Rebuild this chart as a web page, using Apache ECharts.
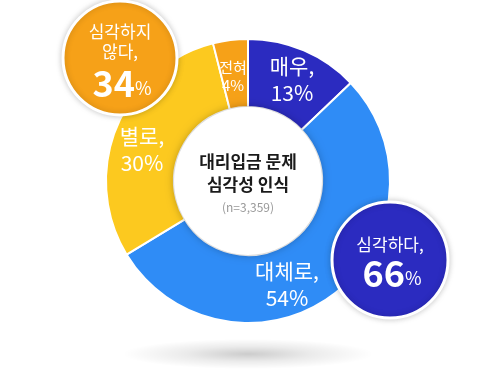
<!DOCTYPE html>
<html>
<head>
<meta charset="utf-8">
<script src="https://cdn.jsdelivr.net/npm/echarts@6/dist/echarts.min.js"></script>
<style>
  html, body { margin: 0; padding: 0; background: #fff; }
  #chart { width: 500px; height: 376px; }
</style>
</head>
<body>
<div id="chart"></div>
<script>
// 응답 분포
const categories = ['매우', '대체로', '별로', '전혀']
const values = [13, 54, 30, 4]
const colors = ['#2b2bc0', '#2f8cf6', '#fcc91f', '#f6a118']

// 묶음 요약
const groupNames = ['심각하다,', '심각하지\n않다,']
const groupValues = [66, 34]
const groupColors = ['#2b2bc0', '#f6a118']

const title = ['대리입금 문제', '심각성 인식']
const sampleText = '(n=3,359)'

const FONT = '"Noto Sans CJK KR", "Noto Sans", sans-serif'
const CX = 248
const CY = 181

// 조각 라벨 위치 (원본 이미지 기준)
const labelPos = [[292, 80], [287, 285], [142, 150], [233, 76]]
const labelSize = [21, 21, 21, 15]

const chart = echarts.init(document.getElementById('chart'))

const sliceLabels = categories.map((name, i) => ({
  type: 'text',
  z: 10,
  x: labelPos[i][0],
  y: labelPos[i][1],
  style: {
    text: (i === 3 ? name : name + ',') + '\n' + values[i] + '%',
    fill: '#fff',
    font: `${labelSize[i]}px ${FONT}`,
    lineHeight: labelSize[i] === 15 ? 18 : 27,
    align: 'center',
    verticalAlign: 'middle'
  }
}))

// 요약 원: nameY = 이름 블록 중심, numY = 숫자 중심
function callout (i, cx, cy, r, nameY, numY) {
  return [{
    type: 'circle',
    z: 20,
    shape: { cx, cy, r },
    style: {
      fill: groupColors[i],
      stroke: '#fff',
      lineWidth: 3,
      shadowBlur: 6,
      shadowColor: 'rgba(0,0,0,0.2)'
    }
  }, {
    type: 'text',
    z: 21,
    x: cx,
    y: nameY,
    style: {
      text: groupNames[i],
      fill: '#fff',
      font: `17px ${FONT}`,
      lineHeight: 20,
      align: 'center',
      verticalAlign: 'middle'
    }
  }, {
    type: 'text',
    z: 21,
    x: cx + 2,
    y: numY,
    style: {
      text: `{b|${groupValues[i]}}{c|%}`,
      align: 'center',
      verticalAlign: 'middle',
      rich: {
        b: { fill: '#fff', fontSize: 36, fontWeight: 'bold', lineHeight: 44, fontFamily: FONT },
        c: { fill: '#fff', fontSize: 18, lineHeight: 34, padding: [10, 0, 0, 0], fontFamily: FONT }
      }
    }
  }]
}

const option = {
  animation: false,
  series: [{
    type: 'pie',
    radius: [74, 142],
    center: [CX, CY],
    startAngle: 90,
    clockwise: true,
    silent: true,
    label: { show: false },
    labelLine: { show: false },
    itemStyle: { borderColor: '#fff', borderWidth: 2 },
    data: categories.map((name, i) => ({
      name,
      value: values[i],
      itemStyle: { color: colors[i] }
    }))
  }],
  graphic: [
    // 하단 그림자
    {
      type: 'circle',
      z: 0,
      x: CX,
      y: 354,
      scaleY: 0.12,
      shape: { cx: 0, cy: 0, r: 125 },
      style: {
        fill: {
          type: 'radial', x: 0.5, y: 0.5, r: 0.5,
          colorStops: [
            { offset: 0, color: 'rgba(0,0,0,0.2)' },
            { offset: 0.5, color: 'rgba(0,0,0,0.08)' },
            { offset: 1, color: 'rgba(0,0,0,0)' }
          ]
        }
      }
    },
    // 가운데 원
    {
      type: 'circle',
      z: 5,
      shape: { cx: CX, cy: CY, r: 74 },
      style: {
        fill: '#fff',
        shadowBlur: 8,
        shadowColor: 'rgba(0,0,0,0.3)'
      }
    },
    {
      type: 'text',
      z: 6,
      x: CX,
      y: 173,
      style: {
        text: title.join('\n'),
        fill: '#1a1a1a',
        font: `bold 17px ${FONT}`,
        lineHeight: 23,
        align: 'center',
        verticalAlign: 'middle'
      }
    },
    {
      type: 'text',
      z: 6,
      x: CX,
      y: 207,
      style: {
        text: sampleText,
        fill: '#999',
        font: `12px ${FONT}`,
        align: 'center',
        verticalAlign: 'middle'
      }
    },
    ...sliceLabels,
    ...callout(0, 390, 260, 58, 245, 273),
    ...callout(1, 120, 58, 57, 42, 83)
  ]
}

chart.setOption(option)
</script>
</body>
</html>
